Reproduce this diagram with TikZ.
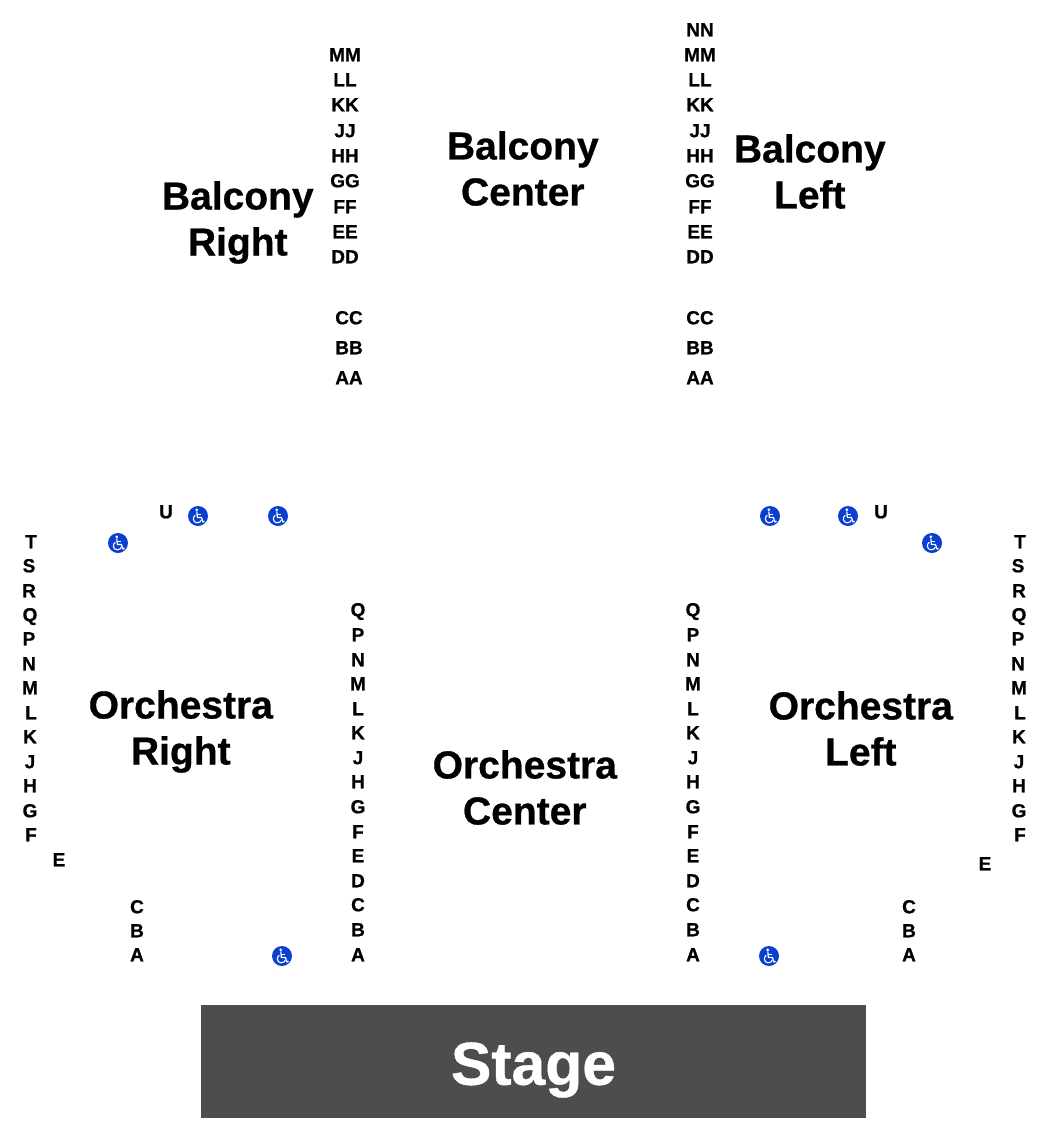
\documentclass[tikz,border=0pt]{standalone}
\usepackage{fontspec}
\setmainfont[BoldFeatures={FakeBold=0.7}]{Liberation Sans}
\definecolor{stagegrey}{HTML}{4D4D4D}
\definecolor{wcblue}{HTML}{0B3FD0}
\tikzset{
  rowlabel/.style={inner sep=0pt,text height=13.6pt,text depth=0pt,yshift=0.5pt,font=\fontsize{19}{19}\selectfont\bfseries},
  section/.style={inner sep=0pt,align=center,xshift=-0.7pt,yshift=0.5pt,font=\fontsize{39}{46}\selectfont\bfseries},
  wheelchair/.pic={
    \fill[wcblue] (0,0) circle (10);
    \fill[white] (-1.2,-6.2) circle (1.5);
    \draw[white,line width=1.2pt,line join=round] (-1.2,-4.5) -- (-0.7,1.4) -- (3.4,1.4) -- (5,6) -- (6.6,5.4);
    \draw[white,line width=1pt] (-1,-1.6) -- (3,-1.6);
    \draw[white,line width=1.1pt] (-2.6,-0.8) .. controls (-6,1) and (-5,6.8) .. (-0.8,6.8) .. controls (1.6,6.8) and (3,5.4) .. (3.4,4);
  }
}
\begin{document}
\begin{tikzpicture}[x=1pt,y=-1pt]
\useasboundingbox (0,0) rectangle (1050,1130);
\fill[stagegrey] (201,1004.5) rectangle (866,1118);
\node[inner sep=0pt,text=white,font=\fontsize{60.6}{60}\selectfont\bfseries] (stage) at (533.5,1070) {Stage};
\node[section] (balr) at (238.5,223) {Balcony\\Right};
\node[section] (balc) at (523.5,169) {Balcony\\Center};
\node[section] (ball) at (810.5,172) {Balcony\\Left};
\node[section] (orcr) at (181.5,732) {Orchestra\\Right};
\node[section] (orcc) at (525.5,788) {Orchestra\\Center};
\node[section] (orcl) at (861.5,729) {Orchestra\\Left};
% balcony rows
\foreach \t/\x/\y [count=\i] in {MM/345/55,LL/345/80,KK/345/105,JJ/345/131,HH/345/156,GG/345/181,FF/345/207,EE/345/232,DD/345/257,CC/349/318,BB/349/348,AA/349/378,
 NN/700/30,MM/700/55,LL/700/80,KK/700/105,JJ/700/131,HH/700/156,GG/700/181,FF/700/207,EE/700/232,DD/700/257,CC/700/318,BB/700/348,AA/700/378}
  \node[rowlabel] (b\i) at (\x,\y) {\t};
% orchestra inner rows
\foreach \t/\y [count=\i] in {Q/610,P/635,N/660,M/684,L/709,K/733,J/758,H/782,G/807,F/832,E/856,D/881,C/905,B/930,A/955}{
  \node[rowlabel] (il\i) at (358,\y) {\t};
  \node[rowlabel] (ir\i) at (693,\y) {\t};
}
% orchestra outer rows
\foreach \t/\x/\y [count=\i] in {U/166/512,T/31/542,S/29/566,R/29/591,Q/30/615,P/29/639,N/29/664,M/30/688,L/31/713,K/30/737,J/30/762,H/30/786,G/30/811,F/31/835,E/59/860,C/137/907,B/137/931,A/137/955,
 U/881/512,T/1020/542,S/1018/566,R/1019/591,Q/1019/615,P/1018/639,N/1018/664,M/1019/688,L/1020/713,K/1019/737,J/1019/762,H/1019/786,G/1019/811,F/1020/835,E/985/864,C/909/907,B/909/931,A/909/955}
  \node[rowlabel] (o\i) at (\x,\y) {\t};
% accessible seating
\foreach \x/\y in {118/543,198/516,278/516,282/956,770/516,848/516,932/543,769/956}
  \pic at (\x,\y) {wheelchair};
\end{tikzpicture}
\end{document}
